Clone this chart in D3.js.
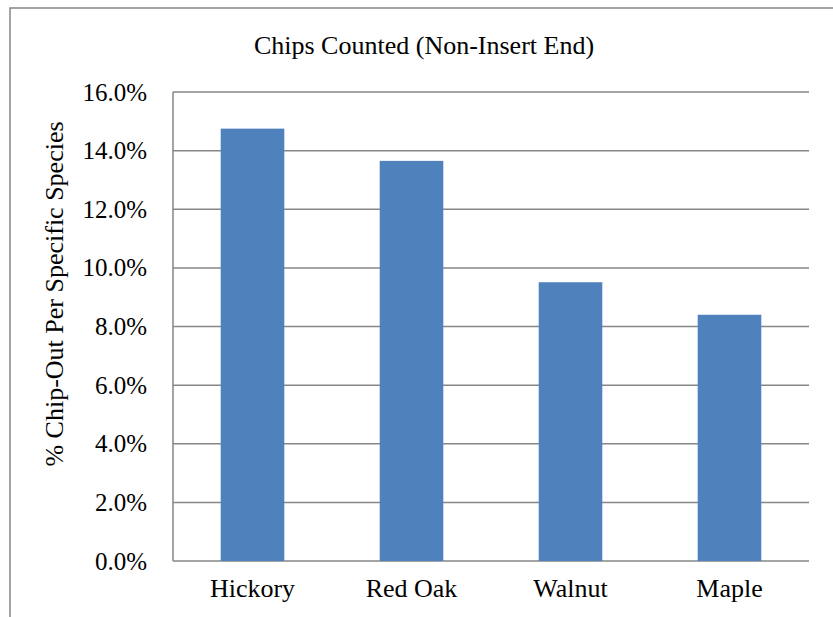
<!DOCTYPE html>
<html><head><meta charset="utf-8">
<script src="https://cdn.jsdelivr.net/npm/d3@7"></script>
<style>body{margin:0;background:#fff}svg{display:block}text{font-family:"Liberation Serif","Times New Roman",serif;fill:#000}</style>
</head><body>
<script>
const categories = ["Hickory", "Red Oak", "Walnut", "Maple"];
const values = [0.1475, 0.1365, 0.0951, 0.0840];
const yTicks = [0, 0.02, 0.04, 0.06, 0.08, 0.10, 0.12, 0.14, 0.16];
const title = "Chips Counted (Non-Insert End)";
const yLabel = "% Chip-Out Per Specific Species";

const W = 833, H = 617;
const m = {left: 173, right: 24, top: 92, bottom: 56};
const svg = d3.select("body").append("svg").attr("width", W).attr("height", H);

svg.append("rect").attr("x", 10).attr("y", 8).attr("width", 900).attr("height", 700)
  .attr("fill", "none").attr("stroke", "#868686").attr("stroke-width", 1.5);

const x = d3.scaleBand().domain(categories).range([m.left, W - m.right]).paddingInner(0.6).paddingOuter(0.3);
const y = d3.scaleLinear().domain([0, 0.16]).range([H - m.bottom, m.top]);

const g = svg.append("g");
g.selectAll("line.grid").data(yTicks).join("line")
  .attr("x1", m.left).attr("x2", W - m.right)
  .attr("y1", d => y(d)).attr("y2", d => y(d))
  .attr("stroke", "#868686").attr("stroke-width", 1.5);

g.selectAll("rect.bar").data(values).join("rect")
  .attr("x", (d, i) => x(categories[i])).attr("width", x.bandwidth())
  .attr("y", d => y(d)).attr("height", d => y(0) - y(d))
  .attr("fill", "#4F81BD");

g.append("line").attr("x1", m.left).attr("x2", m.left).attr("y1", y(0.16)).attr("y2", y(0))
  .attr("stroke", "#868686").attr("stroke-width", 1.5);

const yAxis = d3.axisLeft(y).tickValues(yTicks).tickFormat(d3.format(".1%")).tickSize(0).tickPadding(26);
const ya = svg.append("g").attr("transform", `translate(${m.left},0)`).call(yAxis);
ya.select(".domain").remove();
ya.selectAll("text").style("font-family", '"Liberation Serif",serif').style("font-size", "25px").attr("fill", "#000");

const xAxis = d3.axisBottom(x).tickSize(0).tickPadding(18);
const xa = svg.append("g").attr("transform", `translate(0,${y(0)})`).call(xAxis);
xa.select(".domain").remove();
xa.selectAll("text").style("font-family", '"Liberation Serif",serif').style("font-size", "26px").attr("fill", "#000");

svg.append("text").attr("x", 424).attr("y", 54).attr("text-anchor", "middle")
  .style("font-size", "26px").text(title);

svg.append("text").attr("transform", `translate(63,294) rotate(-90)`)
  .attr("text-anchor", "middle").style("font-size", "26px").text(yLabel);
</script>
</body></html>
